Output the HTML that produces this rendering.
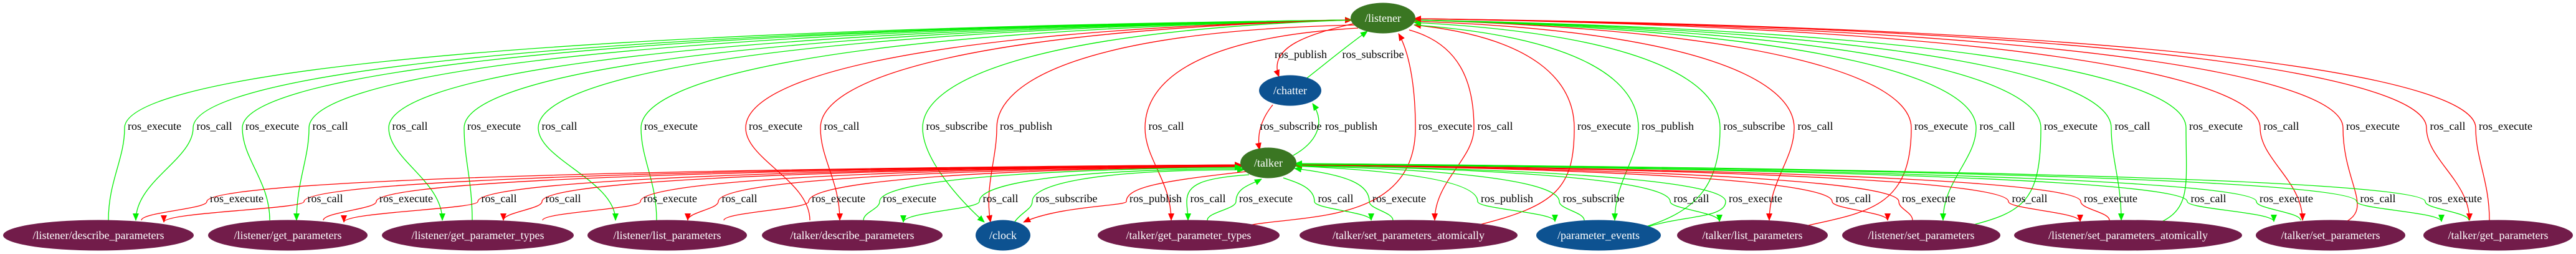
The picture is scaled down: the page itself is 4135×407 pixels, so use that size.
<!DOCTYPE html>
<html><head><meta charset="utf-8"><style>
html,body{margin:0;padding:0;background:#fff;}
svg{display:block;}
text{font-family:"Liberation Serif",serif;font-size:18px;}
.n{fill:#fff;text-anchor:middle;}
.l{fill:#000;text-anchor:middle;}
.g{stroke:#00ee00;fill:none;stroke-width:1.3;}
.r{stroke:#ff0000;fill:none;stroke-width:1.3;}
</style></head><body>
<svg width="4135" height="407" viewBox="0 0 4135 407" xmlns="http://www.w3.org/2000/svg">
<defs>
<marker id="ag" markerWidth="12" markerHeight="10" refX="11" refY="5" orient="auto-start-reverse" markerUnits="userSpaceOnUse"><path d="M0,0 L12,5 L0,10 z" fill="#00ee00"/></marker>
<marker id="ar" markerWidth="12" markerHeight="10" refX="11" refY="5" orient="auto-start-reverse" markerUnits="userSpaceOnUse"><path d="M0,0 L12,5 L0,10 z" fill="#ff0000"/></marker>
</defs>
<!-- upper edges (to /listener) -->
<g>
<path class="g" d="M174,353 C174,290 200,255 200,205 C200,130 692,50 2170,32" marker-end="url(#ag)"/>
<path class="g" d="M218,353 C218,290 310,255 310,205 C310,130 775,50 2170,32" marker-start="url(#ag)"/>
<path class="g" d="M433,353 C433,290 389,255 389,205 C389,130 834,50 2170,32" marker-end="url(#ag)"/>
<path class="g" d="M476,353 C476,290 496,255 496,205 C496,130 914,50 2170,32" marker-start="url(#ag)"/>
<path class="g" d="M710,353 C710,290 624,255 624,205 C624,130 1010,50 2170,32" marker-start="url(#ag)"/>
<path class="g" d="M758,353 C758,290 745,255 745,205 C745,130 1101,50 2170,32" marker-end="url(#ag)"/>
<path class="g" d="M988,353 C988,290 864,255 864,205 C864,130 1190,50 2170,32" marker-start="url(#ag)"/>
<path class="g" d="M1054,353 C1054,290 1029,255 1029,205 C1029,130 1314,50 2170,32" marker-end="url(#ag)"/>
<path class="r" d="M1300,353 C1300,290 1197,255 1197,205 C1197,130 1440,50 2170,32" marker-end="url(#ar)"/>
<path class="r" d="M1348,353 C1348,290 1317,255 1317,205 C1317,130 1530,50 2170,32" marker-start="url(#ar)"/>
<path class="g" d="M1580,356 C1540,320 1481,255 1481,205 C1481,130 1653,50 2170,32" marker-start="url(#ag)"/>
<path class="r" d="M1590,356 C1580,300 1600,255 1600,205 C1600,130 1742,50 2175,40" marker-start="url(#ar)"/>
<path class="r" d="M1880,353 C1880,290 1838,255 1838,205 C1838,130 1921,60 2180,45" marker-start="url(#ar)"/>
<path class="r" d="M2010,360 C2100,345 2272,355 2272,205 C2272,130 2260,80 2245,54" marker-end="url(#ar)"/>
<path class="r" d="M2303,353 C2303,290 2366,255 2366,205 C2366,130 2342,70 2262,48" marker-start="url(#ar)"/>
<path class="r" d="M2367,362 C2500,330 2527,300 2527,205 C2527,130 2463,60 2270,40" marker-end="url(#ar)"/>
<path class="g" d="M2592,353 C2592,290 2630,255 2630,205 C2630,130 2540,60 2270,40" marker-start="url(#ag)"/>
<path class="g" d="M2636,365 C2720,340 2761,300 2761,205 C2761,130 2638,55 2270,36" marker-end="url(#ag)"/>
<path class="r" d="M2840,353 C2840,290 2880,255 2880,205 C2880,130 2728,50 2270,34" marker-start="url(#ar)"/>
<path class="r" d="M2898,362 C3000,340 3068,330 3068,205 C3068,130 2868,50 2270,32" marker-end="url(#ar)"/>
<path class="g" d="M3119,353 C3119,290 3172,255 3172,205 C3172,130 2947,50 2270,32" marker-start="url(#ag)"/>
<path class="g" d="M3160,362 C3250,340 3276,320 3276,205 C3276,130 3024,50 2270,32" marker-end="url(#ag)"/>
<path class="g" d="M3405,353 C3405,290 3389,255 3389,205 C3389,130 3109,50 2270,32" marker-start="url(#ag)"/>
<path class="g" d="M3453,362 C3520,340 3509,300 3509,205 C3509,130 3199,50 2270,32" marker-end="url(#ag)"/>
<path class="r" d="M3696,353 C3696,290 3628,255 3628,205 C3628,130 3288,45 2270,30" marker-start="url(#ar)"/>
<path class="r" d="M3749,362 C3820,340 3761,300 3761,205 C3761,130 3388,45 2270,30" marker-end="url(#ar)"/>
<path class="r" d="M3964,353 C3964,290 3895,255 3895,205 C3895,130 3489,45 2270,30" marker-start="url(#ar)"/>
<path class="r" d="M3996,353 C3996,290 3974,255 3974,205 C3974,130 3548,45 2270,30" marker-end="url(#ar)"/>
</g>
<!-- lower edges (to /talker) -->
<g>
<path class="r" d="M227,353 C227,340 332,335 332,323 C332,295 830,272 1993,264" marker-end="url(#ar)"/>
<path class="r" d="M263,356 C263,340 488,335 488,323 C488,295 939,272 1993,264" marker-start="url(#ar)"/>
<path class="r" d="M519,353 C519,340 604,335 604,323 C604,295 1021,272 1993,265" marker-end="url(#ar)"/>
<path class="r" d="M552,356 C552,340 767,335 767,323 C767,295 1135,272 1993,265" marker-start="url(#ar)"/>
<path class="r" d="M808,353 C808,340 870,335 870,323 C870,295 1207,272 1993,266" marker-start="url(#ar)"/>
<path class="r" d="M871,353 C871,340 1028,335 1028,323 C1028,295 1318,272 1993,266" marker-end="url(#ar)"/>
<path class="r" d="M1104,353 C1104,340 1153,335 1153,323 C1153,295 1405,272 1993,267" marker-start="url(#ar)"/>
<path class="r" d="M1162,353 C1162,340 1298,335 1298,323 C1298,295 1506,272 1993,267" marker-end="url(#ar)"/>
<path class="g" d="M1386,353 C1386,340 1412,335 1412,323 C1412,295 1586,272 1993,268" marker-end="url(#ag)"/>
<path class="g" d="M1450,356 C1450,340 1572,335 1572,323 C1572,295 1698,272 1995,270" marker-start="url(#ag)"/>
<path class="g" d="M1629,355 C1640,340 1657,335 1657,323 C1657,295 1758,272 1997,272" marker-end="url(#ag)"/>
<path class="r" d="M1643,356 C1700,330 1808,330 1808,323 C1808,300 1864,290 2000,275" marker-start="url(#ar)"/>
<path class="g" d="M1907,353 C1907,340 1905,335 1905,323 C1905,295 1931,285 2005,280" marker-start="url(#ag)"/>
<path class="g" d="M1938,353 C1938,340 1984,335 1984,323 C1984,300 2010,295 2025,287" marker-end="url(#ag)"/>
<path class="g" d="M2201,353 C2201,340 2110,335 2110,323 C2110,300 2080,292 2060,285" marker-start="url(#ag)"/>
<path class="g" d="M2236,353 C2236,340 2198,335 2198,323 C2198,295 2162,280 2078,270" marker-end="url(#ag)"/>
<path class="g" d="M2496,355 C2496,340 2372,335 2372,323 C2372,295 2284,275 2079,266" marker-start="url(#ag)"/>
<path class="g" d="M2543,353 C2543,340 2503,335 2503,323 C2503,295 2376,272 2079,266" marker-end="url(#ag)"/>
<path class="g" d="M2760,355 C2760,340 2681,335 2681,323 C2681,295 2500,272 2079,265" marker-start="url(#ag)"/>
<path class="g" d="M2640,365 C2700,345 2770,350 2770,323 C2770,295 2563,272 2079,265" marker-end="url(#ag)"/>
<path class="r" d="M3030,353 C3030,340 2941,335 2941,323 C2941,295 2682,272 2079,264" marker-start="url(#ar)"/>
<path class="r" d="M3070,353 C3070,340 3048,335 3048,323 C3048,295 2757,272 2079,264" marker-end="url(#ar)"/>
<path class="r" d="M3339,355 C3339,340 3224,335 3224,323 C3224,295 2880,272 2079,264" marker-start="url(#ar)"/>
<path class="r" d="M3386,353 C3386,340 3340,335 3340,323 C3340,295 2961,272 2079,264" marker-end="url(#ar)"/>
<path class="g" d="M3650,355 C3650,340 3511,335 3511,323 C3511,295 3081,272 2079,263" marker-start="url(#ag)"/>
<path class="g" d="M3693,353 C3693,340 3622,335 3622,323 C3622,295 3159,272 2079,263" marker-end="url(#ag)"/>
<path class="g" d="M3919,355 C3919,340 3783,335 3783,323 C3783,295 3272,272 2079,262" marker-start="url(#ag)"/>
<path class="g" d="M3963,353 C3963,340 3893,335 3893,323 C3893,295 3349,272 2079,262" marker-end="url(#ag)"/>
</g>
<!-- chatter edges -->
<path class="r" d="M2172,38 C2100,55 2035,75 2053,123" marker-end="url(#ar)"/>
<path class="g" d="M2098,125 C2130,100 2160,75 2195,50" marker-end="url(#ag)"/>
<path class="r" d="M2043,168 C2025,190 2017,215 2022,240" marker-end="url(#ar)"/>
<path class="g" d="M2076,249 C2110,230 2130,200 2107,166" marker-end="url(#ag)"/>
<!-- nodes -->
<g>
<ellipse cx="2220" cy="29" rx="52" ry="24.5" fill="#3a7622"/><text class="n" x="2220" y="35">/listener</text>
<ellipse cx="2071" cy="145" rx="50" ry="24.5" fill="#0d5291"/><text class="n" x="2071" y="151">/chatter</text>
<ellipse cx="2036" cy="261" rx="45" ry="24.5" fill="#3a7622"/><text class="n" x="2036" y="267">/talker</text>
<ellipse cx="158" cy="377" rx="153" ry="24.5" fill="#721c4a"/><text class="n" x="158" y="383">/listener/describe_parameters</text>
<ellipse cx="462" cy="377" rx="128" ry="24.5" fill="#721c4a"/><text class="n" x="462" y="383">/listener/get_parameters</text>
<ellipse cx="767" cy="377" rx="154" ry="24.5" fill="#721c4a"/><text class="n" x="767" y="383">/listener/get_parameter_types</text>
<ellipse cx="1071" cy="377" rx="128" ry="24.5" fill="#721c4a"/><text class="n" x="1071" y="383">/listener/list_parameters</text>
<ellipse cx="1368" cy="377" rx="145" ry="24.5" fill="#721c4a"/><text class="n" x="1368" y="383">/talker/describe_parameters</text>
<ellipse cx="1610" cy="377" rx="44" ry="24.5" fill="#0d5291"/><text class="n" x="1610" y="383">/clock</text>
<ellipse cx="1908" cy="377" rx="146" ry="24.5" fill="#721c4a"/><text class="n" x="1908" y="383">/talker/get_parameter_types</text>
<ellipse cx="2261" cy="377" rx="175" ry="24.5" fill="#721c4a"/><text class="n" x="2261" y="383">/talker/set_parameters_atomically</text>
<ellipse cx="2566" cy="377" rx="100" ry="24.5" fill="#0d5291"/><text class="n" x="2566" y="383">/parameter_events</text>
<ellipse cx="2813" cy="377" rx="121" ry="24.5" fill="#721c4a"/><text class="n" x="2813" y="383">/talker/list_parameters</text>
<ellipse cx="3084" cy="377" rx="127" ry="24.5" fill="#721c4a"/><text class="n" x="3084" y="383">/listener/set_parameters</text>
<ellipse cx="3416" cy="377" rx="183" ry="24.5" fill="#721c4a"/><text class="n" x="3416" y="383">/listener/set_parameters_atomically</text>
<ellipse cx="3741" cy="377" rx="120" ry="24.5" fill="#721c4a"/><text class="n" x="3741" y="383">/talker/set_parameters</text>
<ellipse cx="4010" cy="377" rx="120" ry="24.5" fill="#721c4a"/><text class="n" x="4010" y="383">/talker/get_parameters</text>
</g>
<!-- labels -->
<g class="l">
<text class="l" x="2088" y="93">ros_publish</text>
<text class="l" x="2204" y="93">ros_subscribe</text>
<text class="l" x="248" y="208">ros_execute</text>
<text class="l" x="344" y="208">ros_call</text>
<text class="l" x="437" y="208">ros_execute</text>
<text class="l" x="530" y="208">ros_call</text>
<text class="l" x="658" y="208">ros_call</text>
<text class="l" x="793" y="208">ros_execute</text>
<text class="l" x="898" y="208">ros_call</text>
<text class="l" x="1077" y="208">ros_execute</text>
<text class="l" x="1245" y="208">ros_execute</text>
<text class="l" x="1351" y="208">ros_call</text>
<text class="l" x="1536" y="208">ros_subscribe</text>
<text class="l" x="1647" y="208">ros_publish</text>
<text class="l" x="1872" y="208">ros_call</text>
<text class="l" x="2072" y="208">ros_subscribe</text>
<text class="l" x="2169" y="208">ros_publish</text>
<text class="l" x="2320" y="208">ros_execute</text>
<text class="l" x="2400" y="208">ros_call</text>
<text class="l" x="2575" y="208">ros_execute</text>
<text class="l" x="2677" y="208">ros_publish</text>
<text class="l" x="2816" y="208">ros_subscribe</text>
<text class="l" x="2914" y="208">ros_call</text>
<text class="l" x="3116" y="208">ros_execute</text>
<text class="l" x="3206" y="208">ros_call</text>
<text class="l" x="3324" y="208">ros_execute</text>
<text class="l" x="3423" y="208">ros_call</text>
<text class="l" x="3557" y="208">ros_execute</text>
<text class="l" x="3662" y="208">ros_call</text>
<text class="l" x="3809" y="208">ros_execute</text>
<text class="l" x="3929" y="208">ros_call</text>
<text class="l" x="4022" y="208">ros_execute</text>
<text class="l" x="380" y="324">ros_execute</text>
<text class="l" x="522" y="324">ros_call</text>
<text class="l" x="652" y="324">ros_execute</text>
<text class="l" x="801" y="324">ros_call</text>
<text class="l" x="904" y="324">ros_call</text>
<text class="l" x="1076" y="324">ros_execute</text>
<text class="l" x="1187" y="324">ros_call</text>
<text class="l" x="1346" y="324">ros_execute</text>
<text class="l" x="1460" y="324">ros_execute</text>
<text class="l" x="1606" y="324">ros_call</text>
<text class="l" x="1712" y="324">ros_subscribe</text>
<text class="l" x="1855" y="324">ros_publish</text>
<text class="l" x="1939" y="324">ros_call</text>
<text class="l" x="2032" y="324">ros_execute</text>
<text class="l" x="2144" y="324">ros_call</text>
<text class="l" x="2246" y="324">ros_execute</text>
<text class="l" x="2419" y="324">ros_publish</text>
<text class="l" x="2558" y="324">ros_subscribe</text>
<text class="l" x="2715" y="324">ros_call</text>
<text class="l" x="2818" y="324">ros_execute</text>
<text class="l" x="2975" y="324">ros_call</text>
<text class="l" x="3096" y="324">ros_execute</text>
<text class="l" x="3258" y="324">ros_call</text>
<text class="l" x="3388" y="324">ros_execute</text>
<text class="l" x="3545" y="324">ros_call</text>
<text class="l" x="3670" y="324">ros_execute</text>
<text class="l" x="3817" y="324">ros_call</text>
<text class="l" x="3941" y="324">ros_execute</text>
</g>
</svg>
</body></html>
